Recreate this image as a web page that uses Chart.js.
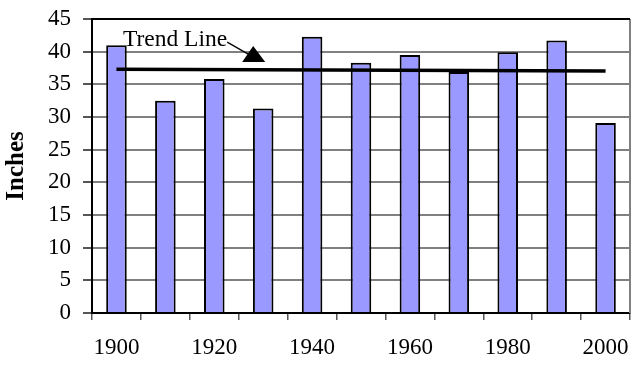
<!DOCTYPE html>
<html>
<head>
<meta charset="utf-8">
<script src="https://cdn.jsdelivr.net/npm/chart.js@4/dist/chart.umd.min.js"></script>
<style>
  html, body { margin: 0; padding: 0; background: #fff; }
  #wrap { width: 633px; height: 366px; }
</style>
</head>
<body>
<div id="wrap"><canvas id="rainChart" width="633" height="366"></canvas></div>
<script>
// Data
const years = ["1900", "1910", "1920", "1930", "1940", "1950", "1960", "1970", "1980", "1990", "2000"];
const inches = [41.0, 32.5, 35.8, 31.3, 42.3, 38.3, 39.5, 36.9, 39.9, 41.7, 29.1];
// trend line only has its two end points, the rest is bridged
const trend = [37.3, null, null, null, null, null, null, null, null, null, 37.05];
const yTicks = [0, 5, 10, 15, 20, 25, 30, 35, 40, 45];

const serif = "'Liberation Serif', 'Times New Roman', serif";

// top/right frame + "Trend Line" note with its arrow
const extras = {
  id: "extras",
  afterDraw(chart) {
    const { ctx, chartArea: a, scales } = chart;
    ctx.save();
    ctx.strokeStyle = "#808080";
    ctx.lineWidth = 2;
    ctx.beginPath();
    ctx.moveTo(a.right, a.top);
    ctx.lineTo(a.right, a.bottom);
    ctx.stroke();
    ctx.strokeStyle = "#000";
    ctx.beginPath();
    ctx.moveTo(a.left, a.top);
    ctx.lineTo(a.right, a.top);
    ctx.stroke();

    // note placed against the scales
    const x0 = scales.x.getPixelForValue(0);
    const ty = scales.y.getPixelForValue(40.85);
    const tx = x0 + 6.5;
    ctx.fillStyle = "#000";
    ctx.font = "23.5px " + serif;
    ctx.textAlign = "left";
    ctx.textBaseline = "alphabetic";
    ctx.fillText("Trend Line", tx, ty);
    const w = ctx.measureText("Trend Line").width;
    ctx.lineWidth = 1.2;
    ctx.beginPath();
    ctx.moveTo(tx + w, ty - 4);
    ctx.lineTo(tx + w + 21, ty + 8);
    ctx.stroke();
    const ax = tx + w + 26;
    ctx.beginPath();
    ctx.moveTo(ax, ty);
    ctx.lineTo(ax + 12, ty + 16);
    ctx.lineTo(ax - 11, ty + 16);
    ctx.closePath();
    ctx.fill();
    ctx.restore();
  }
};

new Chart(document.getElementById("rainChart"), {
  data: {
    labels: years,
    datasets: [
      {
        type: "line",
        label: "Trend",
        data: trend,
        spanGaps: true,
        borderColor: "#000",
        borderWidth: 3.5,
        pointRadius: 0,
        order: 0
      },
      {
        type: "bar",
        label: "Inches",
        data: inches,
        backgroundColor: "#9999FF",
        borderColor: "#000",
        borderWidth: 2,
        categoryPercentage: 1,
        barPercentage: 0.42,
        order: 1
      }
    ]
  },
  options: {
    responsive: false,
    animation: false,
    layout: { padding: { top: 19, right: 3, left: 0, bottom: 0 } },
    plugins: {
      legend: { display: false },
      tooltip: { enabled: false }
    },
    scales: {
      x: {
        offset: true,
        afterFit: (s) => { s.height = 53; s.paddingLeft = 0; s.paddingRight = 0; },
        border: { color: "#000", width: 2 },
        grid: {
          offset: true,
          drawOnChartArea: false,
          color: "#555",
          tickLength: 7,
          lineWidth: 1.5
        },
        ticks: {
          autoSkip: false,
          maxRotation: 0,
          padding: 14,
          color: "#000",
          font: { family: serif, size: 23 },
          callback: function (v, i) { return i % 2 === 0 ? years[i] : ""; }
        }
      },
      y: {
        min: 0,
        max: 45,
        afterFit: (s) => { s.width = 92; s.paddingTop = 0; s.paddingBottom = 0; },
        afterBuildTicks: (s) => { s.ticks = yTicks.map((v) => ({ value: v })); },
        border: { color: "#000", width: 2 },
        grid: {
          color: (c) => (c.tick && c.tick.value === 45 ? "#000" : "#808080"),
          lineWidth: 2,
          tickLength: 9,
          tickColor: "#555"
        },
        ticks: {
          padding: 12,
          color: "#000",
          font: { family: serif, size: 23 }
        },
        title: {
          display: true,
          text: "Inches",
          color: "#000",
          font: { family: serif, size: 25, weight: "bold" },
          padding: { top: 2, bottom: 0 }
        }
      }
    }
  },
  plugins: [extras]
});
</script>
</body>
</html>
